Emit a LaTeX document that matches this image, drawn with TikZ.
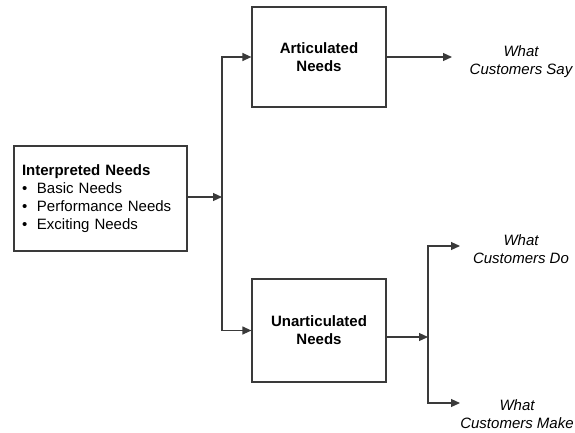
\documentclass[tikz,border=0pt]{standalone}
\usepackage{fontspec}
\setmainfont{Liberation Sans}
\usetikzlibrary{arrows.meta}
\definecolor{linegray}{HTML}{3A3A3A}
\tikzset{
  box/.style={draw=linegray, line width=1.2pt, rectangle, inner sep=0pt, font=\fontsize{15}{18}\selectfont\bfseries, align=center},
  conn/.style={draw=linegray, line width=1.2pt, -{Triangle[length=9pt,width=8pt]}},
  outtext/.style={font=\fontsize{15}{18}\selectfont\itshape, align=center, inner sep=0pt}
}
\begin{document}
\begin{tikzpicture}[x=1pt,y=-1pt]
\useasboundingbox (0,0) rectangle (575,432);
\node[box, minimum width=173pt, minimum height=105pt, text width=157pt, align=left, font=\fontsize{15}{18}\selectfont] (interp) at (100.5,198.5)
  {\textbf{Interpreted Needs}\\
   \makebox[15pt][l]{\textbullet}Basic Needs\\
   \makebox[15pt][l]{\textbullet}Performance Needs\\
   \makebox[15pt][l]{\textbullet}Exciting Needs};
\node[box, minimum width=134pt, minimum height=100pt] (artic) at (319,57) {Articulated\\Needs};
\node[box, minimum width=134pt, minimum height=103pt] (unart) at (319,330.5) {Unarticulated\\Needs};
\node[outtext] (say) at (521,62) {What\\Customers Say};
\node[outtext] (do) at (521,249) {What\\Customers Do};
\node[outtext] (make) at (517,414) {What\\Customers Make};
\coordinate (j1) at (222,197);
\coordinate (j2) at (428,337);
\coordinate (e1) at (452,57);
\coordinate (e2) at (460,246);
\coordinate (e3) at (460,403);
\draw[conn] (interp.east |- j1) -- (j1);
\draw[conn] (j1) |- (artic.west);
\draw[conn] (j1) |- (unart.west);
\draw[conn] (artic.east |- e1) -- (e1);
\draw[conn] (unart.east |- j2) -- (j2);
\draw[conn] (j2) |- (e2);
\draw[conn] (j2) |- (e3);
\end{tikzpicture}
\end{document}
